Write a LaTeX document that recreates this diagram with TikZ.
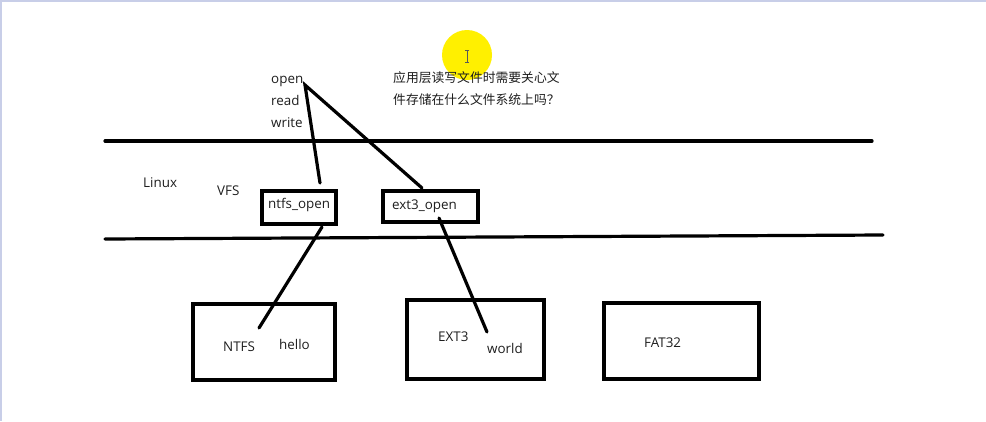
\documentclass[tikz,border=0pt]{standalone}
\usepackage{fontspec}
\setmainfont{Open Sans}
\newfontfamily\cjk{Noto Sans CJK SC}
\definecolor{frame}{RGB}{200,206,232}
\definecolor{txt}{RGB}{30,30,30}
\definecolor{hl}{RGB}{255,240,0}
\begin{document}
\begin{tikzpicture}[x=1pt,y=-1pt,
  thick line/.style={line width=3.2pt,line cap=round},
  lbl/.style={font=\fontsize{13.4}{15}\selectfont,text=txt,inner sep=0pt,anchor=base west},
  cjklbl/.style={font=\cjk\fontsize{12.8}{15}\selectfont,text=txt,inner sep=0pt,anchor=base west}]
\useasboundingbox (0,0) rectangle (986,421);
\fill[white] (0,0) rectangle (986,421);
\draw[frame,line width=2.5pt] (0,1.2) -- (986,1.2);
\draw[frame,line width=1.5pt] (0.8,0) -- (0.8,421);
% cursor highlight
\fill[hl] (467,55) circle (25);
\draw[gray!70!black,line width=0.7pt] (467,50) -- (467,62) (465,50) -- (469,50) (465,62) -- (469,62);
% layer lines
\coordinate (l1a) at (105,141); \coordinate (l1b) at (872,141);
\coordinate (l2a) at (105,239); \coordinate (l2b) at (883,235);
\draw[thick line] (l1a) -- (l1b);
\draw[thick line] (l2a) -- (l2b);
% texts
\node[lbl] (open) at (271,83.5) {open};
\node[lbl] (read) at (271,105.5) {read};
\node[lbl] (write) at (271,127) {write};
\node[cjklbl] (q1) at (393,82.5) {应用层读写文件时需要关心文};
\node[cjklbl] (q2) at (393,104.5) {件存储在什么文件系统上吗？};
\node[lbl] (linux) at (143,187) {Linux};
\node[lbl] (vfs) at (217,195) {VFS};
% vfs boxes
\draw[line width=3.6pt] (262,191) rectangle (336,224);
\node[lbl] (ntfsopen) at (268,208.5) {ntfs\_open};
\draw[line width=3.6pt] (383,191) rectangle (478,222);
\node[lbl] (extopen) at (392,209.5) {ext3\_open};
% fs boxes
\draw[line width=3.8pt] (193,304) rectangle (335,380);
\draw[line width=3.8pt] (407,300) rectangle (544,379);
\draw[line width=3.8pt] (604,303) rectangle (759,379);
\node[lbl] (ntfs) at (223,351) {NTFS};
\node[lbl] (hello) at (279,349) {hello};
\node[lbl] (ext3) at (438,341) {EXT3};
\node[lbl] (world) at (487,353) {world};
\node[lbl] (fat) at (644,347) {FAT32};
% connectors
\coordinate (o) at (305,85);
\coordinate (n1) at (320,183);
\coordinate (e1) at (422,188);
\coordinate (n2) at (322,227);
\coordinate (n3) at (259,328);
\coordinate (e2) at (439,218);
\coordinate (e3) at (487,332);
\draw[thick line] (n1) -- (o) -- (e1);
\draw[thick line] (n2) -- (n3);
\draw[thick line] (e2) -- (e3);
\end{tikzpicture}
\end{document}
